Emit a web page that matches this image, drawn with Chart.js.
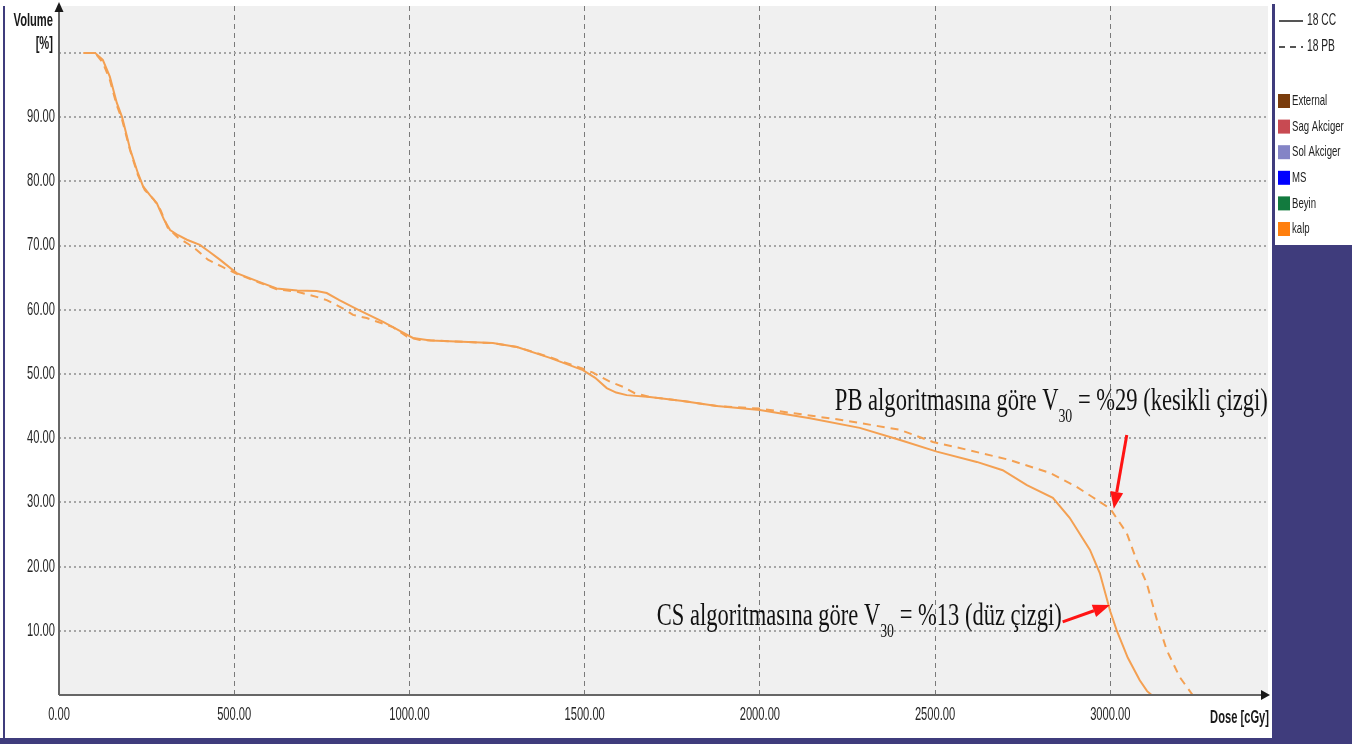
<!DOCTYPE html>
<html>
<head>
<meta charset="utf-8">
<title>DVH - kalp</title>
<script src="https://cdn.jsdelivr.net/npm/chart.js@4.4.1/dist/chart.umd.min.js"></script>
<style>
  html, body { margin: 0; padding: 0; background: #ffffff; }
  #wrap { width: 1363px; height: 744px; }
</style>
</head>
<body>
<div id="wrap"><canvas id="dvh" width="1363" height="744"></canvas></div>
<script>
// Cumulative DVH of the heart (kalp): dose in cGy, volume in %
const ccDose = [70, 103, 125, 145, 165, 180, 203, 225, 240, 260, 279, 300, 317, 340, 365, 402, 430, 459, 507, 573, 621, 680, 735, 764, 800, 850, 925, 970, 1010, 1060, 1115, 1238, 1307, 1401, 1495, 1530, 1563, 1590, 1620, 1686, 1780, 1877, 2000, 2143, 2285, 2400, 2505, 2619, 2693, 2762, 2836, 2884, 2942, 2970, 3000, 3018, 3050, 3084, 3105, 3118];
const ccVolume = [100, 100, 98.9, 96.3, 92.2, 90, 85, 81.3, 79.2, 77.8, 76.6, 74, 72.4, 71.6, 70.9, 70.1, 69, 67.8, 65.7, 64.3, 63.3, 63.0, 62.9, 62.6, 61.5, 60.1, 58.1, 56.8, 55.6, 55.2, 55.1, 54.8, 54.2, 52.5, 50.6, 49.4, 47.8, 47.1, 46.7, 46.4, 45.8, 45.0, 44.4, 43.1, 41.6, 39.7, 37.9, 36.3, 35.0, 32.7, 30.7, 27.6, 22.6, 19.0, 13, 10.1, 5.8, 2.3, 0.6, 0];

const pbDose = [70, 103, 125, 145, 165, 180, 203, 225, 245, 270, 290, 310, 340, 370, 393, 425, 465, 507, 573, 621, 680, 735, 764, 807, 839, 878, 953, 993, 1030, 1115, 1238, 1307, 1401, 1495, 1524, 1572, 1609, 1643, 1686, 1780, 1877, 2000, 2094, 2237, 2400, 2494, 2591, 2713, 2827, 2904, 2950, 3000, 3047, 3075, 3104, 3133, 3161, 3198, 3235];
const pbVolume = [100, 100, 98.5, 95.8, 91.8, 89.6, 84.8, 81.0, 78.6, 77.2, 75.5, 72.8, 71.2, 70.2, 69.3, 67.8, 66.7, 65.6, 64.2, 63.2, 62.8, 62.0, 61.5, 60.3, 59.2, 58.7, 57.3, 55.8, 55.3, 55.1, 54.8, 54.2, 52.6, 50.8, 50.2, 48.8, 48.0, 47.0, 46.4, 45.8, 45.0, 44.6, 43.9, 42.8, 41.3, 39.4, 38.2, 36.6, 34.6, 32.4, 30.8, 29, 25.2, 21.0, 17.4, 11.7, 7.0, 2.8, 0];

// Axis tick labels
const doseTicks = [0, 500, 1000, 1500, 2000, 2500, 3000];
const doseTickLabels = ['0.00', '500.00', '1000.00', '1500.00', '2000.00', '2500.00', '3000.00'];
const volumeTicks = [90, 80, 70, 60, 50, 40, 30, 20, 10];
const volumeTickLabels = ['90.00', '80.00', '70.00', '60.00', '50.00', '40.00', '30.00', '20.00', '10.00'];

// Legend content
const planNames = ['18 CC', '18 PB'];
const structureNames = ['External', 'Sag Akciger', 'Sol Akciger', 'MS', 'Beyin', 'kalp'];
const structureColors = ['#7a3c0c', '#c84a52', '#8484c6', '#0000ff', '#127a3e', '#ff7f0e'];

// V30 readings
const v30Cc = 13;
const v30Pb = 29;

// axis extents
const doseMax = 3450;
const volumeMax = 107.3;

const curveColor = '#f4a052';

const toPoints = (xs, ys) => xs.map((x, i) => ({ x: x, y: ys[i] }));

// draws text compressed horizontally, as in the planning-system display
function squeezed(ctx, text, x, y, font, sx, align, color) {
  ctx.save();
  ctx.font = font;
  ctx.fillStyle = color;
  ctx.textBaseline = 'middle';
  ctx.textAlign = 'left';
  const w = ctx.measureText(text).width * sx;
  const left = align === 'right' ? x - w : (align === 'center' ? x - w / 2 : x);
  ctx.translate(left, y);
  ctx.scale(sx, 1);
  ctx.fillText(text, 0, 0);
  ctx.restore();
}

// serif caption with a subscript, fitted to a given width
function caption(ctx, parts, x, baseline, width, size) {
  ctx.save();
  const mainFont = size + 'px "Liberation Serif", "DejaVu Serif", serif';
  const subFont = Math.round(size * 0.62) + 'px "Liberation Serif", "DejaVu Serif", serif';
  let total = 0;
  parts.forEach(p => { ctx.font = p.sub ? subFont : mainFont; total += ctx.measureText(p.t).width; });
  const sx = width / total;
  ctx.translate(x, baseline);
  ctx.scale(sx, 1);
  ctx.fillStyle = '#111111';
  ctx.textBaseline = 'alphabetic';
  let cx = 0;
  parts.forEach(p => {
    ctx.font = p.sub ? subFont : mainFont;
    ctx.fillText(p.t, cx, p.sub ? size * 0.38 : 0);
    cx += ctx.measureText(p.t).width;
  });
  ctx.restore();
}

function arrow(ctx, x1, y1, x2, y2) {
  const ang = Math.atan2(y2 - y1, x2 - x1);
  const head = 17, half = 6.5;
  const bx = x2 - head * Math.cos(ang), by = y2 - head * Math.sin(ang);
  ctx.save();
  ctx.strokeStyle = '#ff1414';
  ctx.fillStyle = '#ff1414';
  ctx.lineWidth = 3;
  ctx.beginPath();
  ctx.moveTo(x1, y1);
  ctx.lineTo(bx, by);
  ctx.stroke();
  ctx.beginPath();
  ctx.moveTo(x2, y2);
  ctx.lineTo(bx + half * Math.sin(ang), by - half * Math.cos(ang));
  ctx.lineTo(bx - half * Math.sin(ang), by + half * Math.cos(ang));
  ctx.closePath();
  ctx.fill();
  ctx.restore();
}

const frame = {
  id: 'frame',
  beforeDraw(chart) {
    const { ctx, chartArea: a } = chart;
    ctx.save();
    ctx.fillStyle = '#ffffff';
    ctx.fillRect(0, 0, chart.width, chart.height);
    // plot background
    ctx.fillStyle = '#f0f0f0';
    ctx.fillRect(a.left, a.top, a.right - a.left, a.bottom - a.top);
    // window borders
    ctx.fillStyle = '#3f3c7c';
    ctx.fillRect(3, 6, 2, 734);
    ctx.fillRect(0, 738, 1352, 6);
    ctx.fillRect(1272, 4, 3, 242);
    ctx.fillRect(1272, 245, 80, 499);
    ctx.restore();
  },
  afterDraw(chart) {
    const { ctx, chartArea: a } = chart;
    const xs = chart.scales.x, ys = chart.scales.y;
    const tickFont = '18px "Liberation Sans", Arial, sans-serif';
    const boldFont = 'bold 18px "Liberation Sans", Arial, sans-serif';
    const sx = 0.62;

    // axes with arrow heads
    ctx.save();
    ctx.strokeStyle = '#666666';
    ctx.lineWidth = 2;
    ctx.beginPath();
    ctx.moveTo(a.left, a.bottom);
    ctx.lineTo(a.right - 4, a.bottom);
    ctx.moveTo(a.left, a.bottom);
    ctx.lineTo(a.left, a.top + 4);
    ctx.stroke();
    ctx.fillStyle = '#1a1a1a';
    ctx.beginPath();
    ctx.moveTo(a.right + 2, a.bottom);
    ctx.lineTo(a.right - 7, a.bottom - 5);
    ctx.lineTo(a.right - 7, a.bottom + 5);
    ctx.closePath();
    ctx.fill();
    ctx.beginPath();
    ctx.moveTo(a.left, a.top - 4);
    ctx.lineTo(a.left - 4.5, a.top + 6);
    ctx.lineTo(a.left + 4.5, a.top + 6);
    ctx.closePath();
    ctx.fill();
    ctx.restore();

    // tick labels
    doseTicks.forEach((v, i) => {
      squeezed(ctx, doseTickLabels[i], xs.getPixelForValue(v), a.bottom + 20, tickFont, sx, 'center', '#262626');
    });
    volumeTicks.forEach((v, i) => {
      squeezed(ctx, volumeTickLabels[i], a.left - 4, ys.getPixelForValue(v), tickFont, sx, 'right', '#262626');
    });
    squeezed(ctx, 'Volume', a.left - 6, 21, boldFont, sx, 'right', '#1a1a1a');
    squeezed(ctx, '[%]', a.left - 6, 44, boldFont, sx, 'right', '#1a1a1a');
    squeezed(ctx, 'Dose [cGy]', a.right + 1, a.bottom + 23, boldFont, sx, 'right', '#1a1a1a');

    // legend
    ctx.save();
    ctx.strokeStyle = '#555555';
    ctx.lineWidth = 2;
    ctx.beginPath();
    ctx.moveTo(1279, 21); ctx.lineTo(1303, 21);
    ctx.stroke();
    ctx.setLineDash([6, 5]);
    ctx.beginPath();
    ctx.moveTo(1279, 47); ctx.lineTo(1303, 47);
    ctx.stroke();
    ctx.restore();
    planNames.forEach((n, i) => squeezed(ctx, n, 1307, 21 + i * 26, '16px "Liberation Sans", Arial, sans-serif', 0.64, 'left', '#222222'));
    structureNames.forEach((n, i) => {
      const y = 101 + i * 25.6;
      ctx.fillStyle = structureColors[i];
      ctx.fillRect(1278, y - 7, 12, 14);
      squeezed(ctx, n, 1292, y, '15px "Liberation Sans", Arial, sans-serif', 0.64, 'left', '#222222');
    });

    // V30 callouts
    caption(ctx, [{ t: 'PB algoritmasına göre V' }, { t: '30', sub: true }, { t: ' = %' + v30Pb + ' (kesikli çizgi)' }],
      xs.getPixelForValue(2214), ys.getPixelForValue(44.4), 433, 31);
    caption(ctx, [{ t: 'CS algoritmasına göre V' }, { t: '30', sub: true }, { t: ' = %' + v30Cc + ' (düz çizgi)' }],
      xs.getPixelForValue(1706), ys.getPixelForValue(10.9), 405, 31);
    arrow(ctx, xs.getPixelForValue(3047), ys.getPixelForValue(40.5), xs.getPixelForValue(3010), ys.getPixelForValue(v30Pb));
    arrow(ctx, xs.getPixelForValue(2864), ys.getPixelForValue(11.4), xs.getPixelForValue(2999), ys.getPixelForValue(v30Cc + 1));
  }
};

new Chart(document.getElementById('dvh'), {
  type: 'line',
  data: {
    datasets: [
      {
        label: planNames[0],
        data: toPoints(ccDose, ccVolume),
        borderColor: curveColor,
        borderWidth: 2,
        pointRadius: 0,
        tension: 0,
        fill: false
      },
      {
        label: planNames[1],
        data: toPoints(pbDose, pbVolume),
        borderColor: curveColor,
        borderWidth: 2,
        borderDash: [8, 6],
        pointRadius: 0,
        tension: 0,
        fill: false
      }
    ]
  },
  options: {
    responsive: false,
    animation: false,
    events: [],
    layout: { padding: { top: 6, right: 95, left: 0, bottom: 0 } },
    plugins: { legend: { display: false }, tooltip: { enabled: false } },
    scales: {
      x: {
        type: 'linear',
        bounds: 'data',
        min: 0,
        max: doseMax,
        afterBuildTicks(s) {
          s.min = 0;
          s.max = doseMax;
          s.ticks = doseTicks.map(v => ({ value: v }));
        },
        afterFit(s) { s.height = 49; },
        ticks: { stepSize: 500, includeBounds: false, display: false },
        border: { display: false, dash: [5, 4] },
        grid: {
          drawTicks: false,
          lineWidth: 1,
          color: c => (c.tick && c.tick.value > 0) ? '#7a7a7a' : 'rgba(0,0,0,0)'
        }
      },
      y: {
        type: 'linear',
        bounds: 'data',
        min: 0,
        max: volumeMax,
        afterBuildTicks(s) {
          s.min = 0;
          s.max = volumeMax;
        },
        afterFit(s) { s.width = 59; },
        ticks: { stepSize: 10, includeBounds: false, display: false },
        border: { display: false, dash: [2, 3] },
        grid: {
          drawTicks: false,
          lineWidth: 2,
          color: c => (c.tick && c.tick.value > 0 && c.tick.value <= 100) ? '#a6a6a6' : 'rgba(0,0,0,0)'
        }
      }
    }
  },
  plugins: [frame]
});
</script>
</body>
</html>
